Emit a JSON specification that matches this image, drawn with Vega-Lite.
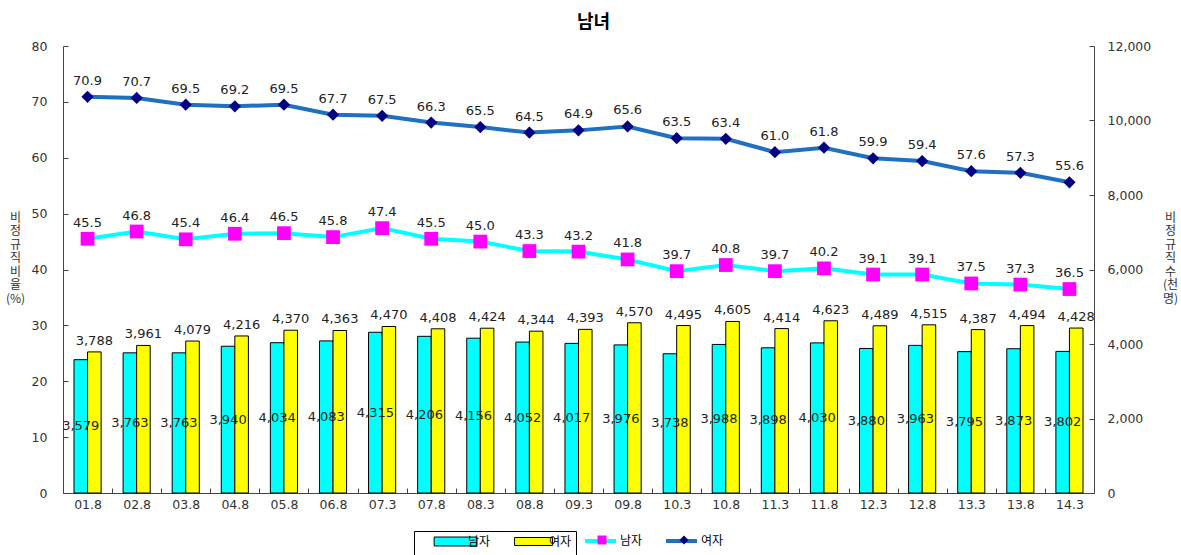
{
  "$schema": "https://vega.github.io/schema/vega-lite/v6.json",
  "width": 1031,
  "height": 447,
  "autosize": {"type": "none"},
  "padding": {"left": 63, "top": 46, "right": 87, "bottom": 62},
  "background": "white",
  "title": {"text": "남녀", "font": "Noto Sans CJK KR", "fontSize": 18, "fontWeight": "bold", "color": "#000", "dx": 15, "offset": 8},
  "config": {"view": {"stroke": null}, "axis": {"grid": false}},
  "data": {"values": [
    {"period": "01.8", "sex": "남자", "count": 3579, "ratio": 45.5},
    {"period": "01.8", "sex": "여자", "count": 3788, "ratio": 70.9},
    {"period": "02.8", "sex": "남자", "count": 3763, "ratio": 46.8},
    {"period": "02.8", "sex": "여자", "count": 3961, "ratio": 70.7},
    {"period": "03.8", "sex": "남자", "count": 3763, "ratio": 45.4},
    {"period": "03.8", "sex": "여자", "count": 4079, "ratio": 69.5},
    {"period": "04.8", "sex": "남자", "count": 3940, "ratio": 46.4},
    {"period": "04.8", "sex": "여자", "count": 4216, "ratio": 69.2},
    {"period": "05.8", "sex": "남자", "count": 4034, "ratio": 46.5},
    {"period": "05.8", "sex": "여자", "count": 4370, "ratio": 69.5},
    {"period": "06.8", "sex": "남자", "count": 4083, "ratio": 45.8},
    {"period": "06.8", "sex": "여자", "count": 4363, "ratio": 67.7},
    {"period": "07.3", "sex": "남자", "count": 4315, "ratio": 47.4},
    {"period": "07.3", "sex": "여자", "count": 4470, "ratio": 67.5},
    {"period": "07.8", "sex": "남자", "count": 4206, "ratio": 45.5},
    {"period": "07.8", "sex": "여자", "count": 4408, "ratio": 66.3},
    {"period": "08.3", "sex": "남자", "count": 4156, "ratio": 45.0},
    {"period": "08.3", "sex": "여자", "count": 4424, "ratio": 65.5},
    {"period": "08.8", "sex": "남자", "count": 4052, "ratio": 43.3},
    {"period": "08.8", "sex": "여자", "count": 4344, "ratio": 64.5},
    {"period": "09.3", "sex": "남자", "count": 4017, "ratio": 43.2},
    {"period": "09.3", "sex": "여자", "count": 4393, "ratio": 64.9},
    {"period": "09.8", "sex": "남자", "count": 3976, "ratio": 41.8},
    {"period": "09.8", "sex": "여자", "count": 4570, "ratio": 65.6},
    {"period": "10.3", "sex": "남자", "count": 3738, "ratio": 39.7},
    {"period": "10.3", "sex": "여자", "count": 4495, "ratio": 63.5},
    {"period": "10.8", "sex": "남자", "count": 3988, "ratio": 40.8},
    {"period": "10.8", "sex": "여자", "count": 4605, "ratio": 63.4},
    {"period": "11.3", "sex": "남자", "count": 3898, "ratio": 39.7},
    {"period": "11.3", "sex": "여자", "count": 4414, "ratio": 61.0},
    {"period": "11.8", "sex": "남자", "count": 4030, "ratio": 40.2},
    {"period": "11.8", "sex": "여자", "count": 4623, "ratio": 61.8},
    {"period": "12.3", "sex": "남자", "count": 3880, "ratio": 39.1},
    {"period": "12.3", "sex": "여자", "count": 4489, "ratio": 59.9},
    {"period": "12.8", "sex": "남자", "count": 3963, "ratio": 39.1},
    {"period": "12.8", "sex": "여자", "count": 4515, "ratio": 59.4},
    {"period": "13.3", "sex": "남자", "count": 3795, "ratio": 37.5},
    {"period": "13.3", "sex": "여자", "count": 4387, "ratio": 57.6},
    {"period": "13.8", "sex": "남자", "count": 3873, "ratio": 37.3},
    {"period": "13.8", "sex": "여자", "count": 4494, "ratio": 57.3},
    {"period": "14.3", "sex": "남자", "count": 3802, "ratio": 36.5},
    {"period": "14.3", "sex": "여자", "count": 4428, "ratio": 55.6}
  ]},
  "encoding": {
    "x": {
      "field": "period", "type": "ordinal", "sort": null,
      "scale": {"paddingInner": 0, "paddingOuter": 0},
      "axis": {"title": null, "labelAngle": 0, "tickBand": "extent", "tickSize": -5, "labelPadding": 10,
        "labelFont": "DejaVu Sans", "labelFontSize": 12.5, "labelColor": "#333", "domainColor": "#444", "tickColor": "#444"}
    }
  },
  "layer": [
    {
      "mark": {"type": "bar", "stroke": "#000", "strokeWidth": 1},
      "encoding": {
        "xOffset": {"field": "sex", "type": "nominal", "scale": {"domain": ["남자", "여자"], "paddingOuter": 0.81, "paddingInner": 0}},
        "y": {"field": "count", "type": "quantitative", "scale": {"domain": [0, 12000]},
          "axis": {"orient": "right", "values": [0, 2000, 4000, 6000, 8000, 10000, 12000], "format": ",d",
            "tickSize": -5, "labelPadding": 18, "labelFont": "DejaVu Sans", "labelFontSize": 12.5, "labelColor": "#333",
            "domainColor": "#444", "tickColor": "#444",
            "title": ["비", "정", "규", "직", "수", "(천", "명)"], "titleAngle": 0, "titleX": 76, "titleY": 171,
            "titleAlign": "center", "titleBaseline": "middle", "titleFont": "Noto Sans CJK KR", "titleFontSize": 12,
            "titleFontWeight": "normal", "titleColor": "#333", "titleLineHeight": 13.5}},
        "color": {"field": "sex", "type": "nominal",
          "scale": {"domain": ["남자", "여자"], "range": ["#00FFFF", "#FFFF00"]},
          "legend": {"orient": "none", "legendX": 351, "legendY": 485, "direction": "horizontal",
            "title": ["\u3000\u3000\u3000\u3000\u3000\u3000\u3000\u3000\u3000\u3000\u3000\u3000\u3000\u3000", "\u3000\u3000\u3000\u3000\u3000\u3000\u3000\u3000\u3000\u3000\u3000\u3000\u3000\u3000"],
            "titleOrient": "right", "titleColor": "transparent", "titlePadding": 2, "titleFont": "Noto Sans CJK KR", "titleFontSize": 12,
            "titleFontWeight": "normal", "titleLineHeight": 13,
            "symbolType": "M1.4,-0.65H7.6V0.65H1.4Z", "symbolSize": 100, "symbolStrokeWidth": 1, "symbolStrokeColor": "#000",
            "labelFont": "Noto Sans CJK KR", "labelFontSize": 12, "labelColor": "#000", "labelOffset": 36,
            "columnPadding": 8, "padding": 3, "strokeColor": "#000", "fillColor": "#fff"}}
      }
    },
    {
      "transform": [{"filter": "datum.sex == '여자'"}],
      "mark": {"type": "text", "dy": -11, "font": "DejaVu Sans", "fontSize": 13, "color": "#222"},
      "encoding": {
        "xOffset": {"field": "sex", "type": "nominal"},
        "y": {"field": "count", "type": "quantitative", "scale": {"domain": [0, 12000]}, "axis": null},
        "text": {"field": "count", "type": "quantitative", "format": ","}
      }
    },
    {
      "transform": [{"filter": "datum.sex == '남자'"}],
      "mark": {"type": "text", "font": "DejaVu Sans", "fontSize": 13, "color": "#222"},
      "encoding": {
        "xOffset": {"field": "sex", "type": "nominal"},
        "y": {"field": "count", "type": "quantitative", "scale": {"domain": [0, 24000]}, "axis": null},
        "text": {"field": "count", "type": "quantitative", "format": ","}
      }
    },
    {
      "mark": {"type": "line", "strokeWidth": 4},
      "encoding": {
        "y": {"field": "ratio", "type": "quantitative", "scale": {"domain": [0, 80]},
          "axis": {"orient": "left", "values": [0, 10, 20, 30, 40, 50, 60, 70, 80], "tickSize": -5, "labelPadding": 21,
            "labelFont": "DejaVu Sans", "labelFontSize": 12.5, "labelColor": "#333", "domainColor": "#444", "tickColor": "#444",
            "title": ["비", "정", "규", "직", "비", "율", "(%)"], "titleAngle": 0, "titleX": -48, "titleY": 171,
            "titleAlign": "center", "titleBaseline": "middle", "titleFont": "Noto Sans CJK KR", "titleFontSize": 12,
            "titleFontWeight": "normal", "titleColor": "#333", "titleLineHeight": 13.5}},
        "stroke": {"field": "sex", "type": "nominal", "scale": {"domain": ["여자", "남자"], "range": ["#1F70C1", "#00FFFF"]},
          "legend": {"orient": "none", "legendX": 505, "legendY": 485, "direction": "horizontal", "values": ["남자", "여자"],
            "title": null, "symbolType": "M1.4,0H7.6", "symbolSize": 100, "symbolStrokeWidth": 4,
            "labelFont": "Noto Sans CJK KR", "labelFontSize": 12, "labelColor": "#000", "labelOffset": 35,
            "columnPadding": 9, "padding": 3}}
      }
    },
    {
      "mark": {"type": "point", "filled": true, "opacity": 1, "strokeWidth": 0},
      "encoding": {
        "y": {"field": "ratio", "type": "quantitative", "scale": {"domain": [0, 80]}, "axis": null},
        "shape": {"field": "sex", "type": "nominal", "scale": {"domain": ["남자", "여자", "x"], "range": ["square", "diamond", "circle"]},
          "legend": {"orient": "none", "legendX": 507.5, "legendY": 485, "direction": "horizontal", "values": ["남자", "여자"],
            "title": null, "symbolSize": 81, "symbolStrokeWidth": 0, "symbolOffset": 22.5, "labelExpr": "''",
            "labelFont": "Noto Sans CJK KR", "labelFontSize": 12, "labelOffset": 12.5,
            "columnPadding": 35, "padding": 3}},
        "size": {"field": "sex", "type": "ordinal", "scale": {"domain": ["남자", "여자"], "range": [190, 150]}, "legend": null},
        "fill": {"field": "sex", "type": "nominal",
          "scale": {"domain": ["남자", "여자", "x"], "range": ["#FF00FF", "#000080", "#FFFFFF"]},
          "legend": {"orient": "none", "legendX": 507.5, "legendY": 485, "direction": "horizontal", "values": ["남자", "여자"],
            "title": null, "symbolSize": 81, "symbolStrokeWidth": 0, "symbolOffset": 22.5, "labelExpr": "''",
            "labelFont": "Noto Sans CJK KR", "labelFontSize": 12, "labelOffset": 12.5,
            "columnPadding": 35, "padding": 3}}
      }
    },
    {
      "mark": {"type": "text", "dy": -16, "font": "DejaVu Sans", "fontSize": 13, "color": "#222"},
      "encoding": {
        "y": {"field": "ratio", "type": "quantitative", "scale": {"domain": [0, 80]}, "axis": null},
        "text": {"field": "ratio", "type": "quantitative", "format": ".1f"}
      }
    }
  ],
  "resolve": {"scale": {"y": "independent"}}
}
